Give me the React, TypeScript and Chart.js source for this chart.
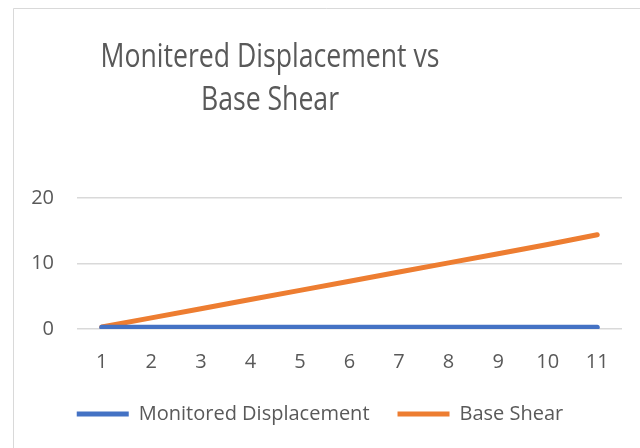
import { useEffect, useRef } from "react";
import { Chart, registerables } from "chart.js";

Chart.register(...registerables);

const categories = ["1", "2", "3", "4", "5", "6", "7", "8", "9", "10", "11"];
const monitoredDisplacement = [0.25, 0.25, 0.25, 0.25, 0.25, 0.25, 0.25, 0.25, 0.25, 0.25, 0.25];
const baseShear = [0.3, 1.7, 3.1, 4.5, 5.9, 7.3, 8.7, 10.1, 11.5, 12.9, 14.4];
const yTicks = [0, 10, 20];
const titleLines = ["Monitered Displacement vs", "Base Shear"];
const seriesNames = ["Monitored Displacement", "Base Shear"];
const seriesColors = ["#4472C4", "#ED7D31"];

const FONT = "'Open Sans', 'Noto Sans', sans-serif";
const TEXT = "#595959";

const framePlugin = {
  id: "frame",
  beforeDraw(chart: any) {
    const ctx = chart.ctx;
    ctx.save();
    ctx.fillStyle = "#ffffff";
    ctx.fillRect(0, 0, chart.width, chart.height);
    ctx.strokeStyle = "#d9d9d9";
    ctx.lineWidth = 1;
    ctx.beginPath();
    ctx.moveTo(13.5, chart.height);
    ctx.lineTo(13.5, 8.5);
    ctx.lineTo(chart.width, 8.5);
    ctx.stroke();
    ctx.restore();
  },
};

const titlePlugin = {
  id: "twoLineTitle",
  afterDraw(chart: any) {
    const ctx = chart.ctx;
    ctx.save();
    ctx.fillStyle = TEXT;
    ctx.font = `32px ${FONT}`;
    ctx.textAlign = "center";
    ctx.textBaseline = "alphabetic";
    const w = ctx.measureText(titleLines[0]).width || 339;
    const sx = Math.min(1, 339 / w);
    const cx = 270;
    const baselines = [67, 110];
    ctx.translate(cx, 0);
    ctx.scale(sx, 1);
    titleLines.forEach((line, i) => ctx.fillText(line, 0, baselines[i]));
    ctx.restore();
  },
};

export default function App() {
  const ref = useRef<HTMLCanvasElement | null>(null);

  useEffect(() => {
    if (!ref.current) return;
    const chart = new Chart(ref.current, {
      type: "line",
      data: {
        labels: categories,
        datasets: [
          {
            label: seriesNames[0],
            data: monitoredDisplacement,
            borderColor: seriesColors[0],
            backgroundColor: seriesColors[0],
            borderWidth: 5,
            borderCapStyle: "round",
            pointRadius: 0,
            tension: 0,
          },
          {
            label: seriesNames[1],
            data: baseShear,
            borderColor: seriesColors[1],
            backgroundColor: seriesColors[1],
            borderWidth: 5,
            borderCapStyle: "round",
            pointRadius: 0,
            tension: 0,
          },
        ],
      },
      options: {
        animation: false,
        responsive: false,
        devicePixelRatio: 1,
        layout: { padding: { left: 18, right: 18, top: 198, bottom: 14 } },
        scales: {
          x: {
            type: "category",
            offset: true,
            grid: { display: false, drawTicks: false },
            border: { display: false },
            ticks: { color: TEXT, font: { family: FONT, size: 20 }, padding: 21, maxRotation: 0, autoSkip: false },
            afterFit(scale: any) {
              scale.height = 47;
            },
          },
          y: {
            min: 0,
            max: 20,
            grid: { color: "#d9d9d9", lineWidth: 1.5, drawTicks: false },
            border: { display: false },
            ticks: { color: TEXT, font: { family: FONT, size: 20 }, padding: 23 },
            afterBuildTicks(scale: any) {
              scale.ticks = yTicks.map((v) => ({ value: v }));
            },
            afterFit(scale: any) {
              scale.width = 59;
            },
          },
        },
        plugins: {
          title: { display: false },
          tooltip: { enabled: false },
          legend: {
            display: true,
            position: "bottom",
            labels: {
              color: TEXT,
              font: { family: FONT, size: 20 },
              boxWidth: 52,
              boxHeight: 5,
              padding: 28,
              useBorderRadius: true,
              borderRadius: 2.5,
              generateLabels(c: any) {
                return c.data.datasets.map((ds: any, i: number) => ({
                  text: ds.label,
                  fillStyle: ds.borderColor,
                  strokeStyle: ds.borderColor,
                  lineWidth: 0,
                  hidden: false,
                  datasetIndex: i,
                  fontColor: TEXT,
                }));
              },
            },
          },
        },
      },
      plugins: [framePlugin, titlePlugin],
    } as any);
    return () => chart.destroy();
  }, []);

  return (
    <div style={{ position: "fixed", left: 0, top: 0, width: 640, height: 448, background: "#fff" }}>
      <canvas ref={ref} width={640} height={448} style={{ display: "block" }} />
    </div>
  );
}
